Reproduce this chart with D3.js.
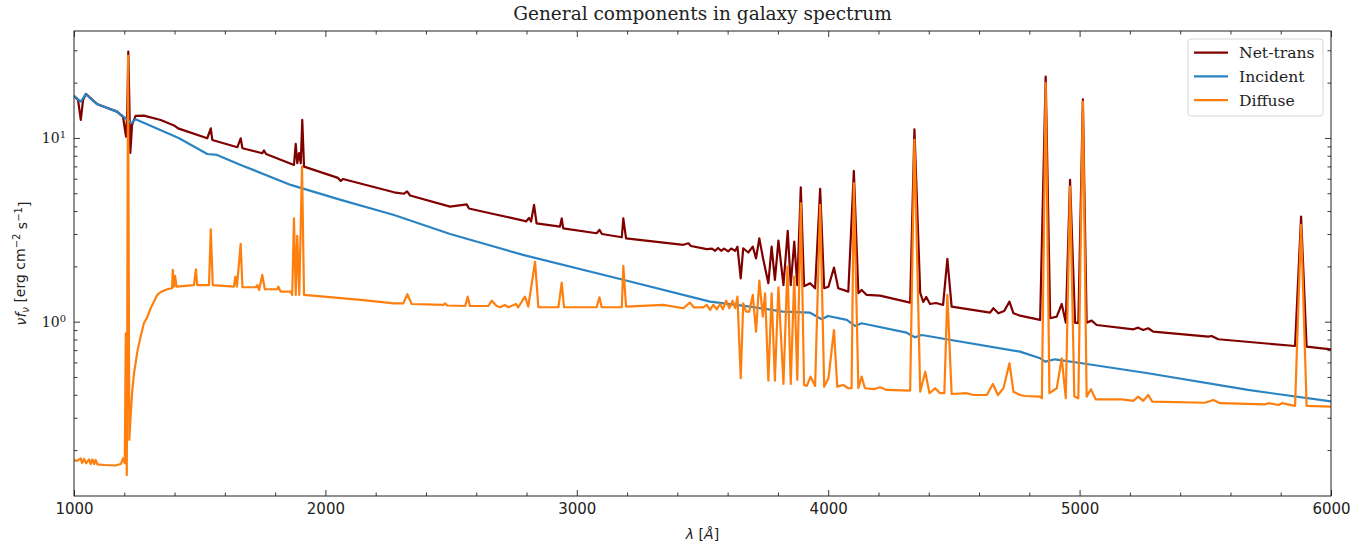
<!DOCTYPE html>
<html>
<head>
<meta charset="utf-8">
<script src="https://cdn.jsdelivr.net/npm/d3@7"></script>
<style>
  body { margin: 0; background: #fff; }
  svg text { fill: #222; }
</style>
</head>
<body>
<div id="chart"></div>
<script>
// Spectrum values (wavelength in Å, vf_v in erg cm^-2 s^-1)
const netLambda = [1000,1016,1027,1036,1047,1091,1171,1195,1207,1212,1216,1220,1224,1231,1245,1278,1345,1398,1414,
  1530,1544,1550,1650,1663,1670,1749,1756,1764,1875,1882,1888,1895,1902,1908,1915,2050,2061,2070,2273,
  2313,2325,2337,2496,2562,2571,2655,2787,2798,2810,2818,2830,2840,2933,2940,2946,3079,3090,3100,3179,3185,3196,
  3424,3444,3454,3517,3538,3550,3562,3574,3586,3602,3614,3630,3639,3652,3662,3682,3700,3713,3726,3742,3762,3775,
  3788,3802,3822,3839,3851,3865,3877,3891,3904,3928,3948,3968,3984,4001,4023,4040,4080,4102,4120,4133,4153,4206,
  4326,4343,4366,4378,4390,4405,4429,4457,4474,4491,4644,4657,4677,4700,4721,4737,4763,4843,4865,4883,4909,4929,
  4945,4962,4982,4995,5013,5028,5048,5068,5214,5233,5253,5273,5293,5512,5525,5552,5857,5881,5903,6000];
const netFlux = [16.93,16.10,12.53,16.10,17.36,15.32,13.91,13.01,10.17,14.21,29.5,16.10,8.29,11.77,13.18,13.23,12.53,11.7,11.27,
  9.96,11.29,9.75,8.90,9.96,8.79,8.26,8.55,8.18,7.13,9.28,7.28,8.26,7.28,12.53,6.98,6.06,5.83,5.98,5.06,
  4.97,5.12,4.86,4.23,4.35,4.13,3.89,3.55,3.51,3.67,3.51,4.32,3.43,3.29,3.65,3.22,3.03,3.16,3.00,2.88,3.65,2.84,
  2.62,2.67,2.58,2.48,2.50,2.43,2.52,2.43,2.50,2.41,2.50,2.43,2.56,1.72,2.51,2.38,2.56,2.21,2.84,2.17,1.62,2.56,
  1.69,2.76,1.58,3.12,1.58,2.73,1.58,5.39,1.56,1.62,1.52,5.28,1.52,1.55,1.97,1.52,1.457,6.61,1.428,1.488,1.398,1.385,
  1.269,11.15,1.433,1.280,1.363,1.248,1.264,1.233,2.20,1.207,1.119,1.183,1.111,1.143,1.285,1.111,1.078,1.022,21.6,1.044,1.065,1.248,
  0.988,5.91,0.988,0.983,16.24,0.988,1.013,0.959,0.909,0.928,0.901,0.921,0.882,0.829,0.836,0.802,0.737,3.73,0.731,0.706];

const incLambda = [1000,1027,1047,1091,1171,1199,1228,1245,1398,1418,1530,1569,1663,1862,2061,2273,2496,2786,3184,
  3530,3689,3820,3928,3974,3999,4074,4107,4133,4312,4345,4372,4763,4843,4863,4902,5009,5272,5670,6000];
const incFlux = [16.93,15.76,17.30,15.32,13.91,12.97,12.03,12.64,10.25,9.96,8.18,8.08,7.13,5.55,4.60,3.81,3.00,2.31,1.69,
  1.285,1.207,1.134,1.119,1.031,1.074,1.022,0.948,0.980,0.871,0.822,0.846,0.687,0.632,0.606,0.624,0.594,0.524,0.425,0.368];

const difLambda = [1000,1012,1027,1032,1040,1048,1060,1066,1073,1080,1086,1093,1123,1163,1186,1196,1202,1206,1210,1215,
  1220,1226,1232,1239,1245,1252,1265,1278,1292,1305,1331,1345,1371,1390,1393,1398,1402,1408,1477,1485,1490,1537,1544,1552,1636,1642,1648,
  1663,1670,1723,1729,1736,1749,1759,1809,1813,1822,1862,1868,1875,1882,1888,1896,1907,1915,2141,2273,2310,2326,2343,
  2469,2476,2484,2556,2566,2575,2648,2662,2681,2695,2714,2728,2758,2767,2794,2807,2814,2834,2847,2927,2940,2949,3079,
  3090,3099,3179,3185,3196,3344,3424,3450,3466,3503,3517,3530,3543,3557,3570,3581,3594,3607,3620,3630,3639,3652,3662,
  3673,3686,3700,3713,3726,3740,3749,3762,3775,3788,3802,3822,3838,3851,3865,3877,3891,3904,3915,3930,3948,3968,3984,
  4001,4023,4036,4060,4080,4093,4102,4120,4133,4146,4180,4206,4233,4326,4343,4366,4386,4403,4425,4445,4462,4474,4491,
  4551,4578,4631,4655,4675,4697,4721,4737,4763,4783,4843,4850,4865,4880,4909,4929,4945,4962,4979,4995,5013,5028,5045,
  5064,5168,5214,5233,5253,5273,5289,5499,5532,5559,5738,5751,5791,5805,5857,5881,5903,6000];
const difFlux = [0.1767,0.1745,0.1804,0.1701,0.1789,0.1695,0.1780,0.1680,0.1778,0.1680,0.1767,0.1674,0.1659,0.1649,0.1680,0.1804,0.1695,0.865,0.1463,27.96,
  0.227,0.317,0.425,0.526,0.594,0.687,0.829,0.980,1.065,1.183,1.398,1.451,1.501,1.520,1.912,1.55,1.774,1.55,1.58,1.929,1.58,1.58,3.18,1.58,1.55,1.758,1.55,
  2.65,1.539,1.539,1.58,1.488,1.796,1.501,1.501,1.55,1.457,1.457,1.398,3.65,1.398,2.93,1.398,6.98,1.398,1.313,1.259,1.259,1.410,1.248,
  1.233,1.259,1.225,1.217,1.368,1.217,1.217,1.301,1.217,1.198,1.233,1.198,1.248,1.198,1.368,1.207,1.398,2.12,1.198,1.198,1.631,1.198,1.198,
  1.358,1.198,1.198,2.01,1.207,1.233,1.183,1.269,1.195,1.195,1.233,1.158,1.233,1.168,1.248,1.168,1.301,1.183,1.301,1.183,1.368,0.492,1.259,
  1.134,1.134,1.398,0.882,1.672,1.065,1.428,0.477,1.428,0.477,1.539,0.458,1.993,0.458,1.758,0.482,4.41,0.452,0.447,0.502,0.447,4.32,0.443,
  0.492,0.901,0.443,0.452,0.434,0.434,5.67,0.434,0.502,0.434,0.429,0.440,0.425,0.421,9.75,0.416,0.534,0.408,0.434,0.408,0.408,1.398,0.404,
  0.408,0.399,0.399,0.458,0.399,0.434,0.594,0.416,0.399,0.394,0.391,0.383,19.86,0.408,0.434,0.632,0.383,5.43,0.391,0.383,15.76,0.391,0.429,
  0.378,0.378,0.371,0.391,0.371,0.399,0.367,0.362,0.375,0.360,0.355,0.360,0.352,0.360,0.348,3.36,0.348,0.345];

const seriesNames = ['Net-trans', 'Incident', 'Diffuse'];
const seriesColors = ['#800000', '#2a84c2', '#ff7f0e'];
const xMajor = [1000, 2000, 3000, 4000, 5000, 6000];
const yMajor = [1, 10];

const WIDTH = 1364, HEIGHT = 544;
const MARGIN = { top: 31, right: 33, bottom: 48, left: 74 };
const W = WIDTH - MARGIN.left - MARGIN.right;
const H = HEIGHT - MARGIN.top - MARGIN.bottom;

const svg = d3.select('#chart').append('svg')
  .attr('width', WIDTH).attr('height', HEIGHT)
  .style('font-family', 'DejaVu Sans, sans-serif');

const x = d3.scaleLinear().domain([1000, 6000]).range([0, W]);
const y = d3.scaleLog().domain([0.1125, 38.2]).range([H, 0]);

const g = svg.append('g').attr('transform', `translate(${MARGIN.left},${MARGIN.top})`);

g.append('clipPath').attr('id', 'plot-clip')
  .append('rect').attr('width', W).attr('height', H);

// minor tick values
const xMinor = d3.range(1000, 6001, 200).filter(v => v % 1000 !== 0);
const yMinor = [];
[0.1, 1, 10].forEach(dec => { for (let k = 2; k <= 9; k++) yMinor.push(dec * k); });
const yMinorIn = yMinor.filter(v => v >= y.domain()[0] && v <= y.domain()[1]);

function styleAxis(ax) {
  ax.select('.domain').remove();
  ax.selectAll('line').attr('stroke', '#222').attr('stroke-width', 0.9);
}

// Bottom
g.append('g').attr('transform', `translate(0,${H})`)
  .call(d3.axisBottom(x).tickValues(xMajor).tickSize(-6).tickPadding(7).tickFormat(d3.format('d')))
  .call(styleAxis)
  .selectAll('text').style('font-size', '15px').style('font-family', 'DejaVu Sans, sans-serif').attr('fill', '#222');
g.append('g').attr('transform', `translate(0,${H})`)
  .call(d3.axisBottom(x).tickValues(xMinor).tickSize(-3.5).tickFormat(''))
  .call(styleAxis);
// Top
g.append('g').call(d3.axisTop(x).tickValues(xMajor).tickSize(-6).tickFormat('')).call(styleAxis);
g.append('g').call(d3.axisTop(x).tickValues(xMinor).tickSize(-3.5).tickFormat('')).call(styleAxis);
// Left
const yAx = g.append('g')
  .call(d3.axisLeft(y).tickValues(yMajor).tickSize(-6).tickPadding(8).tickFormat(''))
  .call(styleAxis);
g.append('g').call(d3.axisLeft(y).tickValues(yMinorIn).tickSize(-3.5).tickFormat('')).call(styleAxis);
// Right
g.append('g').attr('transform', `translate(${W},0)`)
  .call(d3.axisRight(y).tickValues(yMajor).tickSize(-6).tickFormat('')).call(styleAxis);
g.append('g').attr('transform', `translate(${W},0)`)
  .call(d3.axisRight(y).tickValues(yMinorIn).tickSize(-3.5).tickFormat('')).call(styleAxis);

// 10^n labels with superscripts
yAx.selectAll('.tick text').each(function(d) {
  const t = d3.select(this).text(null)
    .attr('x', -8).attr('dy', '0.32em').attr('text-anchor', 'end')
    .style('font-size', '14px').style('font-family', 'DejaVu Serif, serif').attr('fill', '#222');
  t.append('tspan').text('10');
  t.append('tspan').attr('dy', '-0.45em').style('font-size', '10px').text(Math.round(Math.log10(d)));
});

// Lines
const line = d3.line().x(d => x(d[0])).y(d => y(d[1]));
const seriesData = [
  d3.zip(netLambda, netFlux),
  d3.zip(incLambda, incFlux),
  d3.zip(difLambda, difFlux)
];
const lines = g.append('g').attr('clip-path', 'url(#plot-clip)');
seriesData.forEach((pts, i) => {
  lines.append('path')
    .datum(pts)
    .attr('fill', 'none')
    .attr('stroke', seriesColors[i])
    .attr('stroke-width', 2.2)
    .attr('stroke-linejoin', 'round')
    .attr('d', line);
});

// Frame
g.append('rect').attr('width', W).attr('height', H)
  .attr('fill', 'none').attr('stroke', '#222').attr('stroke-width', 1);

// Legend
const leg = g.append('g').attr('transform', `translate(${W - 143},${8})`);
leg.append('rect').attr('width', 135).attr('height', 77).attr('rx', 3)
  .attr('fill', '#fff').attr('fill-opacity', 0.85).attr('stroke', '#d6d6d6');
seriesNames.forEach((name, i) => {
  const cy = 13.7 + i * 23.7;
  leg.append('line').attr('x1', 6).attr('x2', 40).attr('y1', cy).attr('y2', cy)
    .attr('stroke', seriesColors[i]).attr('stroke-width', 2.2);
  leg.append('text').attr('x', 51).attr('y', cy).attr('dy', '0.35em')
    .style('font-family', 'DejaVu Serif, serif').style('font-size', '15.6px').text(name);
});

// Title
svg.append('text').attr('x', MARGIN.left + W / 2).attr('y', 20)
  .attr('text-anchor', 'middle')
  .style('font-family', 'DejaVu Serif, serif').style('font-size', '18.5px')
  .text('General components in galaxy spectrum');

// X label
const xl = svg.append('text').attr('x', MARGIN.left + W / 2).attr('y', 539)
  .attr('text-anchor', 'middle').style('font-size', '14px');
xl.append('tspan').style('font-style', 'italic').text('λ');
xl.append('tspan').text(' [');
xl.append('tspan').style('font-style', 'italic').text('Å');
xl.append('tspan').text(']');

// Y label
const yl = svg.append('text')
  .attr('transform', `translate(26,${MARGIN.top + H / 2}) rotate(-90)`)
  .attr('text-anchor', 'middle').style('font-size', '14px');
yl.append('tspan').style('font-style', 'italic').text('νf');
yl.append('tspan').style('font-style', 'italic').style('font-size', '10px').attr('dy', '0.3em').text('ν');
yl.append('tspan').attr('dy', '-0.3em').text(' [erg cm');
yl.append('tspan').style('font-size', '10px').attr('dy', '-0.5em').text('−2');
yl.append('tspan').attr('dy', '0.5em').text(' s');
yl.append('tspan').style('font-size', '10px').attr('dy', '-0.5em').text('−1');
yl.append('tspan').attr('dy', '0.5em').text(']');
</script>
</body>
</html>
